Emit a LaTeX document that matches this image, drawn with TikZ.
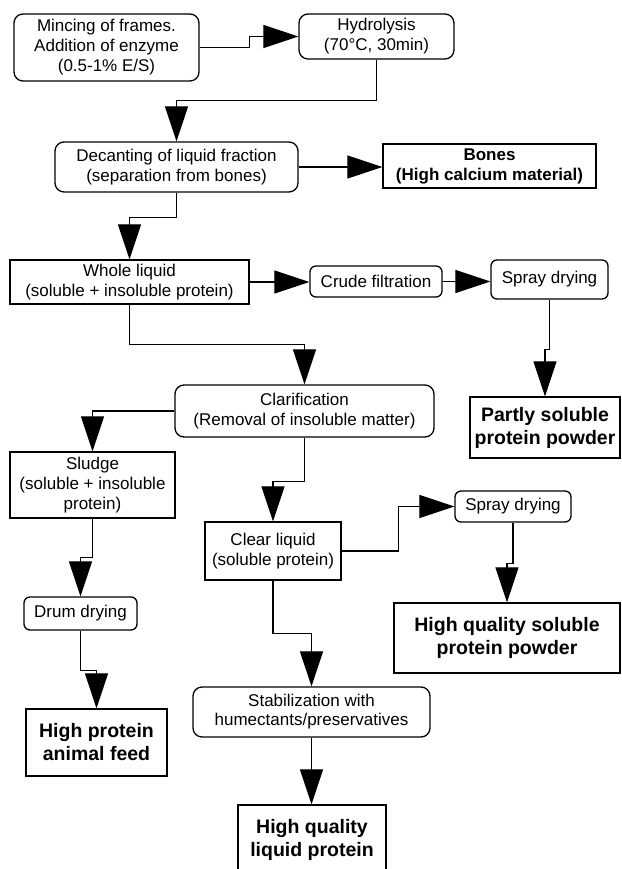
\documentclass[tikz,border=0pt]{standalone}
\usepackage{fontspec}
\setmainfont{Liberation Sans}
\usetikzlibrary{arrows.meta}
\tikzset{
  basebox/.style={draw, line width=1.3pt, align=center, inner sep=0pt, font=\fontsize{17}{20}\selectfont},
  rbox/.style={basebox, rounded corners=9pt},
  srbox/.style={basebox, rounded corners=6pt},
  sbox/.style={basebox},
  bbox/.style={basebox, font=\bfseries\fontsize{19.5}{23}\selectfont},
  arr/.style={line width=1.2pt, -{Triangle[length=35pt,width=23pt]}}
}
\begin{document}
\begin{tikzpicture}[x=1pt,y=-1pt]
\useasboundingbox (0,0) rectangle (621,869);
\node[rbox, minimum width=185pt, minimum height=67pt] (mince) at (106.5,47.5) {Mincing of frames.\\Addition of enzyme\\(0.5-1\% E/S)};
\node[rbox, minimum width=155pt, minimum height=45pt] (hyd) at (376.5,36.5) {Hydrolysis\\(70°C, 30min)};
\node[rbox, minimum width=243pt, minimum height=50pt] (dec) at (176.5,167) {Decanting of liquid fraction\\(separation from bones)};
\node[sbox, minimum width=213pt, minimum height=44pt, font=\bfseries\fontsize{17}{20}\selectfont] (bones) at (489.5,166) {Bones\\(High calcium material)};
\node[sbox, minimum width=239pt, minimum height=44pt] (whole) at (129.5,282) {Whole liquid\\(soluble + insoluble protein)};
\node[srbox, minimum width=132pt, minimum height=31pt] (crude) at (376,281.5) {Crude filtration};
\node[srbox, minimum width=117pt, minimum height=39pt] (spray1) at (549.5,279.5) {Spray drying};
\node[bbox, minimum width=150pt, minimum height=61pt] (partly) at (545,427.5) {Partly soluble\\protein powder};
\node[rbox, minimum width=259pt, minimum height=52pt] (clar) at (304.5,411) {Clarification\\(Removal of insoluble matter)};
\node[sbox, minimum width=165pt, minimum height=66pt] (sludge) at (92.5,485) {Sludge\\(soluble + insoluble\\protein)};
\node[sbox, minimum width=136pt, minimum height=58pt] (clear) at (273,551) {Clear liquid\\(soluble protein)};
\node[srbox, minimum width=116pt, minimum height=31pt] (spray2) at (513,506.5) {Spray drying};
\node[bbox, minimum width=226pt, minimum height=70pt] (hqsol) at (507,638) {High quality soluble\\protein powder};
\node[srbox, minimum width=113pt, minimum height=33pt] (drum) at (80.5,613.5) {Drum drying};
\node[bbox, minimum width=141pt, minimum height=67pt] (hpfeed) at (96.5,742.5) {High protein\\animal feed};
\node[rbox, minimum width=237pt, minimum height=50pt, font=\fontsize{17}{19}\selectfont] (stab) at (311.5,712) {Stabilization with\\humectants/preservatives};
\node[bbox, minimum width=148pt, minimum height=70pt] (hqliq) at (312,840) {High quality\\liquid protein};

\draw[arr] (mince.east) -- ++(50,0) |- (hyd.west);
\draw[arr] (hyd.south) -- ++(0,41) -| (dec.north);
\draw[arr] (dec.east) -- (dec.east -| bones.west);
\draw[arr] (dec.south) -- ++(0,25) -| (whole.north);
\draw[arr] (whole.east) -- (whole.east -| crude.west);
\draw[arr] (crude.east) -- (crude.east -| spray1.west);
\draw[arr] (spray1.south) -- ++(0,50) -| (partly.north);
\draw[arr] (whole.south) -- ++(0,40) -| (clar.north);
\draw[arr] (clar.west) -| (sludge.north);
\draw[arr] (clar.south) -- ++(0,44) -| (clear.north);
\draw[arr] (clear.east) -- ++(57,0) |- (spray2.west);
\draw[arr] (spray2.south) -- ++(0,41) -| (hqsol.north);
\draw[arr] (sludge.south) -- ++(0,39) -| (drum.north);
\draw[arr] (drum.south) -- ++(0,40) -| (hpfeed.north);
\draw[arr] (clear.south) -- ++(0,53) -| (stab.north);
\draw[arr] (stab.south) -- (stab.south |- hqliq.north);
\end{tikzpicture}
\end{document}
